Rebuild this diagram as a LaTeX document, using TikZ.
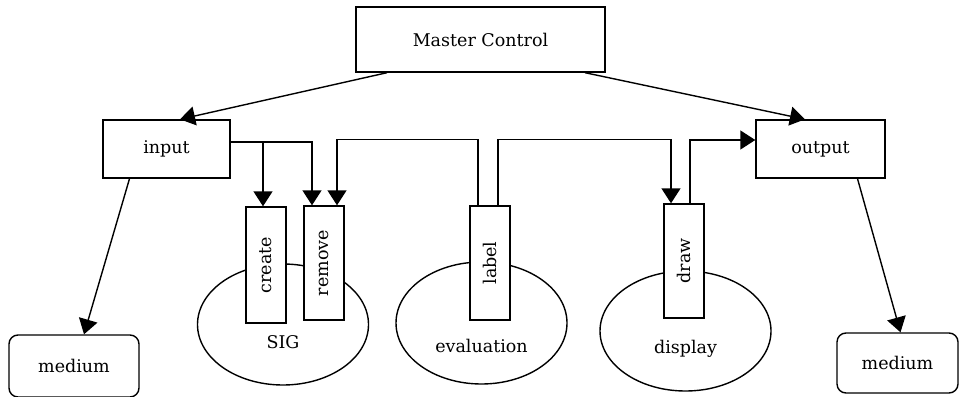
\documentclass[tikz,border=0pt]{standalone}
\usepackage{graphicx}
\usepackage{fontspec}
\setmainfont{DejaVu Serif}
\usepackage{tikz}
\usetikzlibrary{arrows.meta,positioning,shapes.geometric}

\begin{document}
\begin{tikzpicture}[
    x=1pt, y=-1pt,
    font=\fontsize{17.5}{20}\selectfont,
    line width=1.4pt,
    box/.style={
        rectangle,
        draw,
        fill=white,
        align=center,
        inner sep=0pt
    },
    tallbox/.style={
        box,
        minimum width=40pt,
        minimum height=114pt
    },
    medbox/.style={
        box,
        rounded corners=9pt
    },
    blob/.style={
        ellipse,
        draw,
        inner sep=0pt,
        minimum width=171pt
    },
    arrow/.style={
        -{Triangle[width=19pt,length=15pt]}
    }
]
\useasboundingbox (0,0) rectangle (960,396);

% modules round each box
\node[blob, minimum height=121pt, label={[yshift=-18pt]center:SIG}] (sig) at (283,324.5) {};
\node[blob, minimum height=122pt, label={[yshift=-23pt]center:evaluation}] (evaluation) at (481.5,323) {};
\node[blob, minimum height=120pt, label={[yshift=-18pt]center:display}] (display) at (685.5,331) {};

\node[box, minimum width=249pt, minimum height=65pt] (master) at (480.5,39.5) {Master Control};
\node[box, minimum width=127pt, minimum height=58pt] (input) at (166.5,149) {input};
\node[box, minimum width=129pt, minimum height=58pt] (output) at (820.5,149) {output};

\node[tallbox, minimum height=116pt] (create) at (266,265) {\rotatebox{90}{create}};
\node[tallbox] (remove) at (324,263) {\rotatebox{90}{remove}};
\node[tallbox] (label) at (490,263) {\rotatebox{90}{label}};
\node[tallbox] (draw) at (684,261) {\rotatebox{90}{draw}};

\node[medbox, minimum width=130pt, minimum height=62pt] (mediumin) at (74,366) {medium};
\node[medbox, minimum width=121pt, minimum height=60pt] (mediumout) at (897.5,363) {medium};

\draw[arrow] ([xshift=-93.5pt]master.south) -- ([xshift=13.5pt]input.north);
\draw[arrow] ([xshift=104.5pt]master.south) -- ([xshift=-15.5pt]output.north);

\draw[arrow] ([xshift=-37pt]input.south) -- ([xshift=10pt]mediumin.north);
\draw[arrow] ([xshift=37pt]output.south) -- ([xshift=3pt]mediumout.north);

\draw[arrow] ([yshift=7pt]input.east) -| ([xshift=-3pt]create.north);
\draw[arrow] ([yshift=7pt]input.east) -| ([xshift=-12pt]remove.north);

\draw[arrow] ([xshift=-12pt]label.north) -- ++(0,-66) -| ([xshift=13pt]remove.north);
\draw[arrow] ([xshift=8pt]label.north) -- ++(0,-66) -| ([xshift=-13pt]draw.north);
\draw[arrow] ([xshift=6pt]draw.north) |- ([yshift=9pt]output.west);

\end{tikzpicture}
\end{document}
